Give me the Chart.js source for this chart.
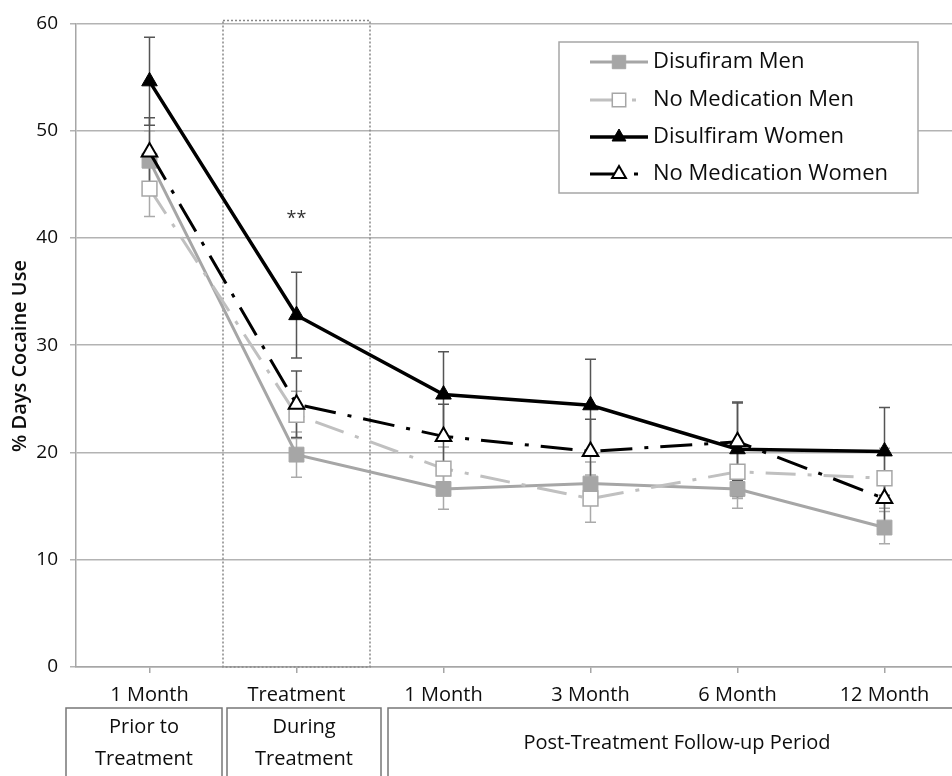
<!DOCTYPE html>
<html>
<head>
<meta charset="utf-8">
<script src="https://cdn.jsdelivr.net/npm/chart.js@4"></script>
<style>
  html, body { margin: 0; padding: 0; background: #fff; overflow: hidden; }
  #caja { width: 970px; height: 776px; }
</style>
</head>
<body>
<div id="caja"><canvas id="miGrafica" width="970" height="776"></canvas></div>
<script>
"use strict";

// categorias del eje x
const categorias = ['1 Month', 'Treatment', '1 Month', '3 Month', '6 Month', '12 Month'];
const periodos = [['Prior to', 'Treatment'], ['During', 'Treatment'], ['Post-Treatment Follow-up Period']];
const ticksY = [0, 10, 20, 30, 40, 50, 60];

// valores (% dias de uso)
const disufiramMen = [47.2, 19.8, 16.6, 17.1, 16.6, 13.0];
const errDisufiramMen = [2.8, 2.1, 1.9, 2.0, 1.8, 1.5];
const noMedMen = [44.6, 23.5, 18.5, 15.7, 18.2, 17.6];
const errNoMedMen = [2.6, 2.2, 2.0, 2.2, 2.5, 2.8];
const disulfiramWomen = [54.6, 32.8, 25.4, 24.4, 20.3, 20.1];
const errDisulfiramWomen = [4.1, 4.0, 4.0, 4.3, 4.4, 4.1];
const noMedWomen = [48.0, 24.5, 21.5, 20.1, 21.0, 15.7];
const errNoMedWomen = [3.2, 3.1, 3.0, 3.0, 3.6, 2.5];
const marcaSignificancia = '**';

const fuente = "'Open Sans', 'Liberation Sans', sans-serif";
Chart.defaults.font.family = fuente;
const colorTexto = '#0d0d0d';

const errores = [errDisufiramMen, errNoMedMen, errDisulfiramWomen, errNoMedWomen];
const colorError = ['#aaaaaa', '#aaaaaa', '#555555', '#555555'];

// dibuja caja punteada, barras de error, leyenda y textos extra
const extras = {
  id: 'extras',
  beforeDatasetsDraw(chart) {
    const ctx = chart.ctx;
    const x = chart.scales.x, y = chart.scales.y;
    const x0 = (x.getPixelForValue(0) + x.getPixelForValue(1)) / 2;
    const x1 = (x.getPixelForValue(1) + x.getPixelForValue(2)) / 2;
    ctx.save();
    ctx.setLineDash([2, 2]);
    ctx.strokeStyle = '#888';
    ctx.lineWidth = 1.5;
    ctx.strokeRect(x0, y.top - 3, x1 - x0, y.bottom - y.top + 3);
    ctx.setLineDash([]);

    chart.data.datasets.forEach(function (ds, i) {
      ctx.strokeStyle = colorError[i];
      ctx.lineWidth = 1.5;
      ds.data.forEach(function (v, j) {
        const px = x.getPixelForValue(j);
        const yt = y.getPixelForValue(v + errores[i][j]);
        const yb = y.getPixelForValue(v - errores[i][j]);
        ctx.beginPath();
        ctx.moveTo(px, yt); ctx.lineTo(px, yb);
        ctx.moveTo(px - 5.5, yt); ctx.lineTo(px + 5.5, yt);
        ctx.moveTo(px - 5.5, yb); ctx.lineTo(px + 5.5, yb);
        ctx.stroke();
      });
    });

    // asteriscos
    ctx.fillStyle = '#333';
    ctx.font = '18px ' + fuente;
    ctx.textAlign = 'center';
    ctx.textBaseline = 'middle';
    ctx.fillText(marcaSignificancia, x.getPixelForValue(1), y.getPixelForValue(41.8));
    ctx.restore();
  },
  afterDraw(chart) {
    const ctx = chart.ctx;
    ctx.save();
    // leyenda
    ctx.fillStyle = '#fff';
    ctx.fillRect(559, 42, 359, 151);
    ctx.strokeStyle = '#a6a6a6';
    ctx.lineWidth = 1.5;
    ctx.strokeRect(559, 42, 359, 151);
    const filas = [62, 100, 137, 174];
    chart.data.datasets.forEach(function (ds, i) {
      const yy = filas[i];
      ctx.strokeStyle = ds.borderColor;
      ctx.lineWidth = ds.borderWidth;
      ctx.setLineDash(ds.borderDash || []);
      ctx.beginPath();
      ctx.moveTo(590, yy); ctx.lineTo(648, yy);
      ctx.stroke();
      ctx.setLineDash([]);
      ctx.fillStyle = ds.pointBackgroundColor;
      ctx.strokeStyle = ds.pointBorderColor;
      ctx.lineWidth = ds.pointBorderWidth;
      Chart.helpers.drawPoint(ctx, {
        pointStyle: ds.pointStyle, radius: ds.pointRadius - 1, rotation: 0, borderWidth: ds.pointBorderWidth
      }, 619, yy);
      ctx.fillStyle = colorTexto;
      ctx.font = '22px ' + fuente;
      ctx.textAlign = 'left';
      ctx.textBaseline = 'middle';
      ctx.fillText(ds.label, 653, yy);
    });

    // titulo eje y
    ctx.save();
    ctx.translate(20, 356);
    ctx.rotate(-Math.PI / 2);
    ctx.fillStyle = colorTexto;
    ctx.font = '600 20px ' + fuente;
    ctx.textAlign = 'center';
    ctx.textBaseline = 'middle';
    ctx.fillText('% Days Cocaine Use', 0, 0);
    ctx.restore();

    // cajas de periodos
    const cajas = [[66, 156], [227, 154], [388, 600]];
    ctx.strokeStyle = '#777';
    ctx.lineWidth = 1.5;
    ctx.fillStyle = colorTexto;
    ctx.font = '20px ' + fuente;
    ctx.textAlign = 'center';
    ctx.textBaseline = 'middle';
    periodos.forEach(function (lineas, k) {
      const c = cajas[k];
      ctx.strokeRect(c[0], 708, c[1], 90);
      const cx = k === 2 ? 677 : c[0] + c[1] / 2;
      if (lineas.length === 2) {
        ctx.fillText(lineas[0], cx, 727);
        ctx.fillText(lineas[1], cx, 759);
      } else {
        ctx.fillText(lineas[0], cx, 743);
      }
    });
    ctx.restore();
  }
};

const ctx = document.getElementById('miGrafica');
const chart = new Chart(ctx, {
  type: 'line',
  data: {
    labels: categorias,
    datasets: [{
      label: 'Disufiram Men',
      data: disufiramMen,
      borderColor: '#a6a6a6',
      borderWidth: 3,
      pointStyle: 'rect',
      pointRadius: 10.5,
      pointBackgroundColor: '#a6a6a6',
      pointBorderColor: '#a6a6a6',
      pointBorderWidth: 1,
      order: 4
    }, {
      label: 'No Medication Men',
      data: noMedMen,
      borderColor: '#c0c0c0',
      borderWidth: 3,
      borderDash: [30, 12, 4, 12],
      pointStyle: 'rect',
      pointRadius: 10.5,
      pointBackgroundColor: '#ffffff',
      pointBorderColor: '#a6a6a6',
      pointBorderWidth: 1.5,
      order: 3
    }, {
      label: 'Disulfiram Women',
      data: disulfiramWomen,
      borderColor: '#000000',
      borderWidth: 3.5,
      pointStyle: 'triangle',
      pointRadius: 9,
      pointBackgroundColor: '#000000',
      pointBorderColor: '#000000',
      pointBorderWidth: 1,
      order: 2
    }, {
      label: 'No Medication Women',
      data: noMedWomen,
      borderColor: '#000000',
      borderWidth: 3,
      borderDash: [32, 12, 4, 12],
      pointStyle: 'triangle',
      pointRadius: 9,
      pointBackgroundColor: '#ffffff',
      pointBorderColor: '#000000',
      pointBorderWidth: 2,
      order: 1
    }]
  },
  options: {
    responsive: false,
    animation: false,
    layout: { padding: { top: 19, right: 10, left: 0, bottom: 0 } },
    elements: { line: { tension: 0 } },
    plugins: { legend: { display: false }, tooltip: { enabled: false } },
    scales: {
      x: {
        type: 'category',
        offset: true,
        grid: { drawOnChartArea: false, drawTicks: true, tickLength: 6, color: '#a6a6a6', lineWidth: 1.5 },
        border: { display: true, color: '#a6a6a6', width: 1.5 },
        ticks: { font: { size: 20 }, color: colorTexto, padding: 10, maxRotation: 0, autoSkip: false },
        afterFit: function (s) { s.height = 109; }
      },
      y: {
        min: ticksY[0],
        max: ticksY[ticksY.length - 1],
        afterBuildTicks: function (s) { s.ticks = ticksY.map(function (v) { return { value: v }; }); },
        grid: { color: '#b3b3b3', lineWidth: 1.5, tickLength: 6 },
        border: { color: '#a6a6a6', width: 1.5 },
        ticks: { font: { size: 19 }, color: colorTexto, padding: 12 },
        afterFit: function (s) { s.width = 76; }
      }
    }
  },
  plugins: [extras]
});
</script>
</body>
</html>
